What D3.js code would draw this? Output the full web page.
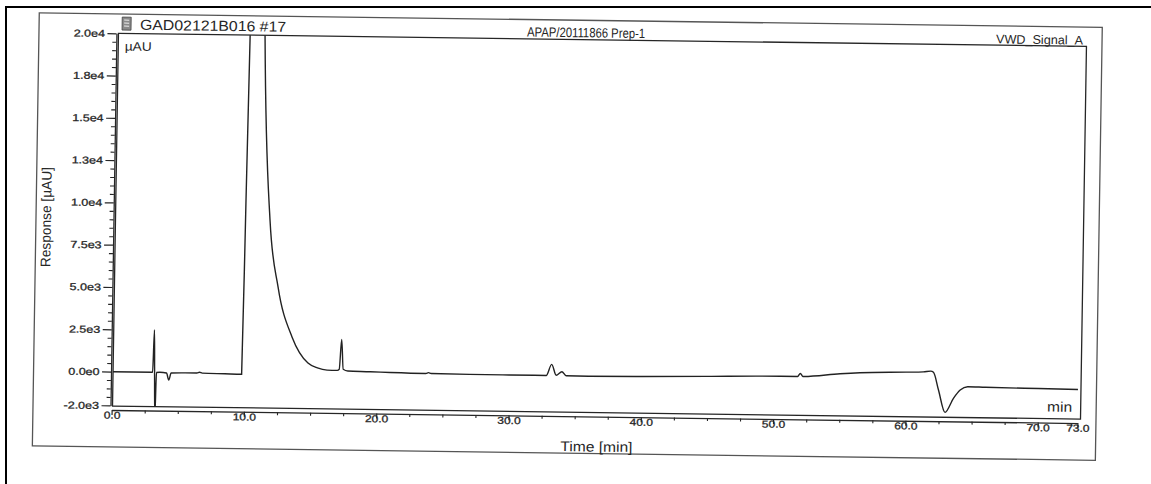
<!DOCTYPE html>
<html><head><meta charset="utf-8">
<script src="https://cdn.jsdelivr.net/npm/d3@7"></script>
<style>
body{margin:0;background:#fff}
text{font-family:"Liberation Sans",Arial,sans-serif}
</style>
</head><body>
<svg id="c" width="1151" height="484"></svg>
<script>
// ---- data (time in min, response in µAU) ----
const times = [0,3.05,3.14,3.2,3.27,3.34,3.6,4.1,4.28,4.45,5.5,6.4,6.6,6.8,8.5,9.78,9.9,10.02,10.3,10.8,11.14,11.74,12.43,13.55,14.78,15.5,16.23,17.0,17.15,17.3,17.45,17.8,19.5,21,23.7,23.9,24.1,27,30,32.8,33.2,33.55,33.98,34.3,36,40,45,49,51.8,52.0,52.2,55,56.5,60,61.3,61.85,62.06,62.46,62.98,63.6,64.1,64.67,66,70,73];
const response = [-10,-10,2490,0,-2700,-20,-5,-40,-455,-40,-20,-20,30,-20,-40,-55,10200,20500,38000,38000,20000,9075,5128,2180,659,380,260,250,320,2085,320,220,200,170,140,190,140,120,115,118,775,140,350,120,105,130,190,250,260,440,260,450,525,600,630,680,610,-430,-1745,-910,-415,-210,-230,-265,-285];

const xMajorTicks = [0,10,20,30,40,50,60,70,73];
const xTickLabels = ["0.0","10.0","20.0","30.0","40.0","50.0","60.0","70.0","73.0"];
const yMajorTicks = [-2000,0,2500,5000,7500,10000,12500,15000,17500,20000];
const yTickLabels = ["-2.0e3","0.0e0","2.5e3","5.0e3","7.5e3","1.0e4","1.3e4","1.5e4","1.8e4","2.0e4"];

const headerLeft = "GAD02121B016 #17";
const headerMid = "APAP/20111866 Prep-1";
const headerRight = "VWD_Signal_A";
const yUnit = "µAU";
const xUnit = "min";
const xTitle = "Time [min]";
const yTitle = "Response [µAU]";

// ---- drawing ----
const ink = "#262626";
const svg = d3.select("#c");
svg.append("rect").attr("width",1151).attr("height",484).attr("fill","#fff");
svg.append("rect").attr("x",6).attr("y",7).attr("width",1160).attr("height",490)
  .attr("fill","none").attr("stroke","#000").attr("stroke-width",2);

// slight scan tilt
const B = 0.0135, C = -0.016;
const g = svg.append("g").attr("transform",`matrix(1,${B},${C},1,${(-C*406).toFixed(2)},${(-B*111).toFixed(2)})`);

// page frame
g.append("rect").attr("x",33).attr("y",14).attr("width",1063).attr("height",433)
  .attr("fill","none").attr("stroke","#555").attr("stroke-width",1.3);

const x = d3.scaleLinear().domain([0,73]).range([111.7, 111.7+73*13.23]);
const y = d3.scaleLinear().domain([-2000,20000]).range([405.4, 33.3]);

const plotL = 112.5, plotR = x(73)+3, plotT = y(20000), plotB = 406;

g.append("defs").append("clipPath").attr("id","clip").append("rect")
  .attr("x",plotL).attr("y",plotT).attr("width",plotR-plotL).attr("height",plotB-plotT);

// plot frame
g.append("rect").attr("x",plotL).attr("y",plotT).attr("width",plotR-plotL).attr("height",plotB-plotT)
  .attr("fill","none").attr("stroke",ink).attr("stroke-width",1.3);

// x axis
const gx = g.append("g").attr("transform","translate(0,410)")
  .attr("font-size",12).attr("font-family","Liberation Sans, Arial, sans-serif")
  .call(d3.axisBottom(x).tickValues(xMajorTicks).tickFormat((d,i)=>xTickLabels[i]).tickSize(5).tickSizeOuter(0));
gx.select(".domain").attr("stroke",ink).attr("stroke-width",1.3);
gx.selectAll(".tick line").attr("stroke",ink).attr("stroke-width",1.2);
gx.selectAll(".tick text").attr("y",1.5).attr("dy","0.71em").attr("fill",ink)
  .attr("stroke",ink).attr("stroke-width",0.3).attr("transform","scale(1.2,1)");
const gxm = g.append("g").attr("transform","translate(0,410)")
  .call(d3.axisBottom(x).tickValues(d3.range(2.5,73,2.5).filter(v=>v%10!==0)).tickFormat("").tickSize(3).tickSizeOuter(0));
gxm.select(".domain").remove();
gxm.selectAll(".tick line").attr("stroke",ink).attr("stroke-width",1.1);

// y axis
const gy = g.append("g").attr("transform","translate(110.5,0)")
  .attr("font-size",11.5).attr("font-family","Liberation Sans, Arial, sans-serif")
  .call(d3.axisLeft(y).tickValues(yMajorTicks).tickFormat((d,i)=>yTickLabels[i]).tickSize(9).tickSizeOuter(0));
gy.select(".domain").attr("stroke",ink).attr("stroke-width",1.3);
gy.selectAll(".tick line").attr("stroke",ink).attr("stroke-width",1.2);
gy.selectAll(".tick text").attr("x",-11.5/1.25).attr("fill",ink)
  .attr("stroke",ink).attr("stroke-width",0.3).attr("transform","scale(1.25,1)");
const gym = g.append("g").attr("transform","translate(110.5,0)")
  .call(d3.axisLeft(y).tickValues(d3.range(-2000,20001,500).filter(v=>!yMajorTicks.includes(v))).tickFormat("").tickSize(4).tickSizeOuter(0));
gym.select(".domain").remove();
gym.selectAll(".tick line").attr("stroke",ink).attr("stroke-width",1.1);

// trace
const pts = times.map((t,i)=>[t,response[i]]);
g.append("path").attr("clip-path","url(#clip)")
  .attr("d", d3.line().x(d=>x(d[0])).y(d=>y(d[1])).curve(d3.curveMonotoneX)(pts))
  .attr("fill","none").attr("stroke","#222").attr("stroke-width",1.4);

// header
const icon = g.append("g").attr("transform","translate(116,17)");
icon.append("rect").attr("width",9).attr("height",13).attr("fill","#8a8a8a").attr("stroke","#444").attr("stroke-width",0.8);
[3,6,9].forEach(v=>icon.append("line").attr("x1",2).attr("x2",7).attr("y1",v).attr("y2",v).attr("stroke","#eee").attr("stroke-width",1));

function txt(str, xx, yy, size, anchor, len){
  const t = g.append("text").attr("x",xx).attr("y",yy).attr("font-size",size)
    .attr("text-anchor",anchor).attr("fill",ink).text(str);
  if(len){ t.attr("textLength",len).attr("lengthAdjust","spacingAndGlyphs"); }
  return t;
}
txt(headerLeft, 134, 29.5, 14.5, "start", 146);
txt(headerMid, 521, 31, 13.5, "start", 118);
txt(headerRight, 1077, 31.5, 12.5, "end", 87);
txt(yUnit, 119, 50.5, 12.5, "start", 27);
txt(xUnit, 1072, 399, 14, "end", 25);
txt(xTitle, 561, 445, 14, "start", 72);
g.append("text").attr("transform","translate(48,218) rotate(-90)").attr("text-anchor","middle")
  .attr("font-size",14).attr("fill",ink).attr("textLength",100).attr("lengthAdjust","spacingAndGlyphs").text(yTitle);
</script>
</body></html>
